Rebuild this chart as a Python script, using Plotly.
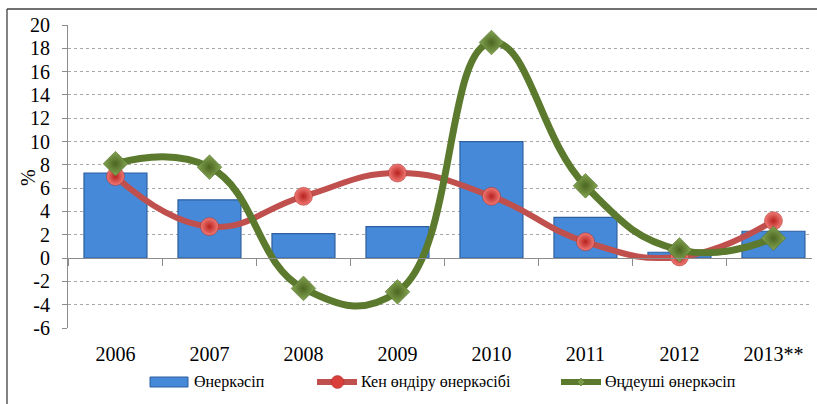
import plotly.graph_objects as go

categories = ["2006", "2007", "2008", "2009", "2010", "2011", "2012", "2013**"]
industry = [7.3, 5.0, 2.1, 2.7, 10.0, 3.5, 0.5, 2.3]
mining = [7.0, 2.7, 5.3, 7.3, 5.3, 1.4, 0.1, 3.2]
manufacturing = [8.1, 7.8, -2.6, -2.9, 18.5, 6.2, 0.7, 1.7]
series_names = ["Өнеркәсіп", "Кен өндіру өнеркәсібі", "Өңдеуші өнеркәсіп"]
y_ticks = list(range(-6, 21, 2))
y_tick_labels = [str(v) for v in y_ticks]

W, H = 817, 404
L, R, T, B = 68, 5, 25, 76
FONT = "'Liberation Serif', 'Times New Roman', serif"
BLUE, BLUE_EDGE = "#4689d8", "#2d5f9e"
RED = "#c0504d"
GREEN = "#5b7a2e"
GRAY = "#8c8c8c"

xs = list(range(len(categories)))
xr = [-0.505, 7.41]
yr = [-6, 20]


def px(x):
    return (x - L) / (W - L - R)


def py(y):
    return (H - B - y) / (H - T - B)


fig = go.Figure()
fig.add_trace(go.Bar(
    x=xs, y=industry, name=series_names[0], width=0.67,
    marker=dict(color=BLUE, line=dict(color=BLUE_EDGE, width=1.2)),
    showlegend=False, xaxis="x", yaxis="y"))
fig.add_trace(go.Scatter(
    x=xs, y=mining, name=series_names[1], mode="lines+markers",
    line=dict(color=RED, width=6, shape="spline", smoothing=1.3),
    marker=dict(symbol="circle", size=18, color="#f07a76",
                gradient=dict(type="radial", color="#b8221e"),
                line=dict(color="#a52a27", width=0.5)),
    showlegend=False, xaxis="x2", yaxis="y"))
fig.add_trace(go.Scatter(
    x=xs, y=manufacturing, name=series_names[2], mode="lines+markers",
    line=dict(color=GREEN, width=7, shape="spline", smoothing=1.3),
    marker=dict(symbol="diamond", size=19, color="#86a653",
                gradient=dict(type="radial", color="#4b6621"),
                line=dict(color="#4b6621", width=0.5)),
    showlegend=False, xaxis="x2", yaxis="y"))

shapes = []
# outer frame (top and left)
shapes.append(dict(type="line", xref="paper", yref="paper", x0=px(7), x1=px(W + 5),
                   y0=py(9), y1=py(9), line=dict(color="#404040", width=1.3)))
shapes.append(dict(type="line", xref="paper", yref="paper", x0=px(7), x1=px(7),
                   y0=py(9), y1=py(H + 5), line=dict(color="#404040", width=1.3)))

# manual legend
ly = 382
shapes.append(dict(type="rect", xref="paper", yref="paper", x0=px(150), x1=px(188),
                   y0=py(377), y1=py(387), fillcolor=BLUE,
                   line=dict(color=BLUE_EDGE, width=1)))
shapes.append(dict(type="line", xref="paper", yref="paper", x0=px(317), x1=px(357),
                   y0=py(ly), y1=py(ly), line=dict(color=RED, width=6)))
shapes.append(dict(type="circle", xref="paper", yref="paper", x0=px(331), x1=px(344),
                   y0=py(388.5), y1=py(375.5), fillcolor="#d9403c",
                   line=dict(color="#a52a27", width=0.5)))
shapes.append(dict(type="line", xref="paper", yref="paper", x0=px(561), x1=px(601),
                   y0=py(ly), y1=py(ly), line=dict(color=GREEN, width=6)))
cx = 581
shapes.append(dict(type="path", xref="paper", yref="paper",
                   path=f"M {px(cx-4)},{py(ly)} L {px(cx)},{py(ly-4)} L {px(cx+4)},{py(ly)} L {px(cx)},{py(ly+4)} Z",
                   fillcolor="#7a9a47", line=dict(color="#4b6621", width=0.5)))

annotations = []
for xpos, name in zip([192, 359, 603], series_names):
    annotations.append(dict(text=name, xref="paper", yref="paper", x=px(xpos), y=py(ly),
                            xanchor="left", yanchor="middle", showarrow=False,
                            font=dict(family=FONT, size=16, color="black")))
annotations.append(dict(text="%", xref="paper", yref="paper", x=px(28), y=py(178),
                        xanchor="center", yanchor="middle", showarrow=False, textangle=-90,
                        font=dict(family=FONT, size=20, color="black")))

fig.update_layout(
    width=W, height=H,
    margin=dict(l=L, r=R, t=T, b=B, autoexpand=False),
    paper_bgcolor="white", plot_bgcolor="white",
    font=dict(family=FONT, size=20, color="black"),
    showlegend=False,
    bargap=0.33,
    shapes=shapes, annotations=annotations,
    xaxis=dict(range=xr, tickmode="array", tickvals=xs, ticktext=categories,
               showgrid=False, zeroline=False, showline=False, ticks="",
               ticklabelstandoff=12, tickfont=dict(family=FONT, size=20)),
    xaxis2=dict(range=xr, overlaying="x", anchor="free", position=6 / 26, side="bottom",
                tickmode="array", tickvals=[i - 0.5 for i in range(len(categories) + 1)],
                showticklabels=False, ticks="outside", ticklen=7, tickcolor=GRAY,
                showline=True, linecolor=GRAY, linewidth=1,
                showgrid=False, zeroline=False),
    yaxis=dict(range=yr, tickmode="array", tickvals=y_ticks, ticktext=y_tick_labels,
               showgrid=True, gridcolor="#a8a8a8", griddash="dot", gridwidth=1,
               zeroline=False, showline=True, linecolor=GRAY, linewidth=1,
               ticks="outside", ticklen=5, tickcolor=GRAY,
               ticklabelstandoff=8, tickfont=dict(family=FONT, size=20)),
)

fig.write_html("out.html", post_script="document.body.style.margin='0';",
               config={"displayModeBar": False})
